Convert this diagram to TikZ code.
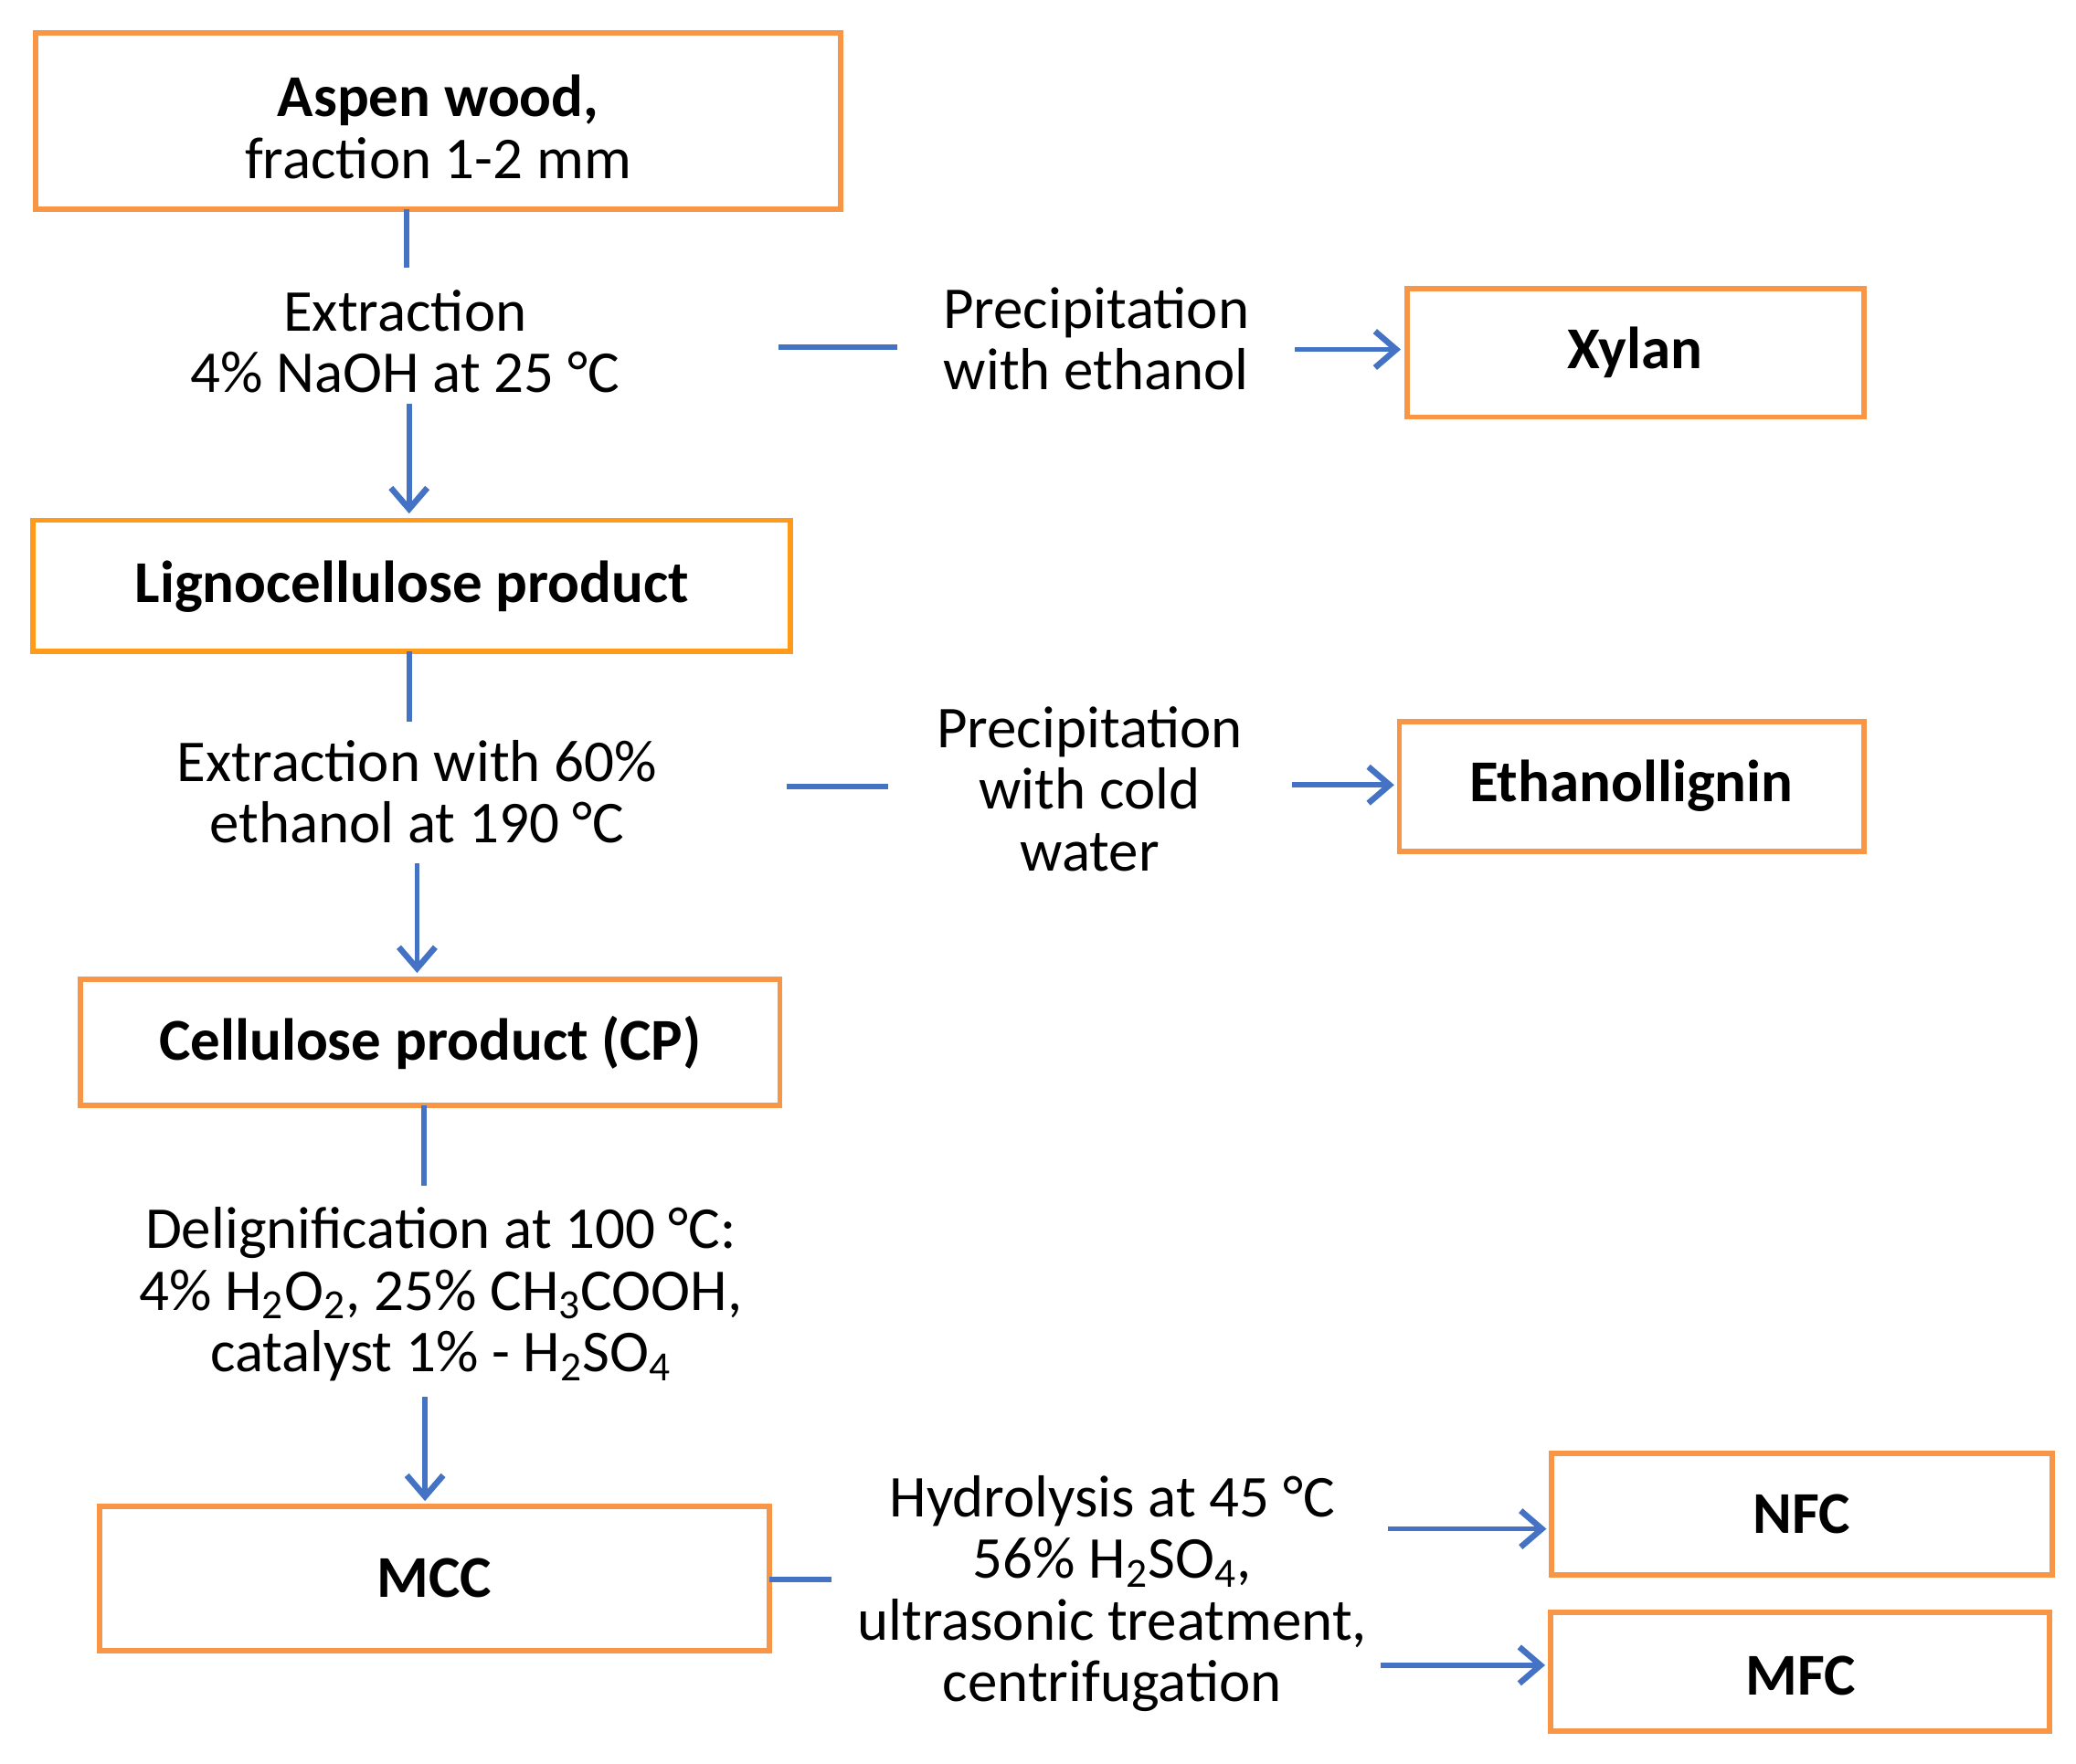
\documentclass[tikz,border=0pt]{standalone}
\usepackage{fontspec}
\setmainfont{Carlito}
\usetikzlibrary{arrows.meta}
\definecolor{bor}{HTML}{F79646}
\definecolor{bor2}{HTML}{FF9A1A}
\definecolor{lin}{HTML}{4472C4}
\begin{document}
\begin{tikzpicture}[x=0.2mm,y=-0.2mm,
 box/.style={draw=bor,line width=0.8mm,inner sep=0pt},
 txt/.style={align=center,font=\fontsize{25.5}{26.5}\selectfont,inner sep=0pt},
 bt/.style={font=\fontsize{25.5}{26.5}\selectfont\bfseries,align=center},
 ln/.style={draw=lin,line width=0.8mm},
 ar/.style={ln,-{Straight Barb[length=3.2mm,width=5.5mm,line width=0.9mm]}}]
\useasboundingbox (0,0) rectangle (1568,1332);
\draw[box] (27,25) rectangle (635,158);
\node[bt,font=\fontsize{25.5}{26.5}\selectfont] (aspen) at (331,96) {\textbf{Aspen wood,}\\fraction 1-2 mm};
\draw[box] (1063,218) rectangle (1408,315); \node[bt] (xylan) at (1235,266) {Xylan};
\draw[box,draw=bor2] (25,393) rectangle (597,492); \node[bt] (ligno) at (311,443) {Lignocellulose product};
\draw[box] (1057,545) rectangle (1408,643); \node[bt] (etl) at (1232,594) {Ethanollignin};
\draw[box] (61,740) rectangle (589,835); \node[bt] (cp) at (325,788) {Cellulose product (CP)};
\draw[box] (75,1138) rectangle (581,1247); \node[bt] (mcc) at (328,1192) {MCC};
\draw[box] (1172,1098) rectangle (1550,1190); \node[bt] (nfc) at (1361,1144) {NFC};
\draw[box] (1171,1218) rectangle (1548,1308); \node[bt] (mfc) at (1360,1266) {MFC};

\node[txt] (t1) at (306,258) {Extraction\\4\% NaOH at 25 °C};
\node[txt] (t2) at (828,256) {Precipitation\\with ethanol};
\node[txt] (t3) at (315,598) {Extraction with 60\%\\ethanol at 190 °C};
\node[txt] (t4) at (823,596) {Precipitation\\with cold\\water};
\node[txt] (t5) at (333,978) {Delignification at 100 °C:\\4\% H\textsubscript{2}O\textsubscript{2}, 25\% CH\textsubscript{3}COOH,\\catalyst 1\% - H\textsubscript{2}SO\textsubscript{4}};
\node[txt] (t6) at (840,1204) {Hydrolysis at 45 °C\\56\% H\textsubscript{2}SO\textsubscript{4},\\ultrasonic treatment,\\centrifugation};

\coordinate (a1) at (307,158); \coordinate (a2) at (307,202);
\draw[ln] (a1)--(a2);
\coordinate (b1) at (309,305); \coordinate (b2) at (309,388);
\draw[ar] (b1)--(b2);
\coordinate (c1) at (588,262); \coordinate (c2) at (678,262);
\draw[ln] (c1)--(c2);
\coordinate (d1) at (978,264); \coordinate (d2) at (1058,264);
\draw[ar] (d1)--(d2);
\coordinate (e1) at (309,492); \coordinate (e2) at (309,545);
\draw[ln] (e1)--(e2);
\coordinate (f1) at (315,652); \coordinate (f2) at (315,735);
\draw[ar] (f1)--(f2);
\coordinate (g1) at (594,594); \coordinate (g2) at (671,594);
\draw[ln] (g1)--(g2);
\coordinate (h1) at (976,593); \coordinate (h2) at (1053,593);
\draw[ar] (h1)--(h2);
\coordinate (i1) at (320,835); \coordinate (i2) at (320,896);
\draw[ln] (i1)--(i2);
\coordinate (j1) at (321,1055); \coordinate (j2) at (321,1134);
\draw[ar] (j1)--(j2);
\coordinate (k1) at (581,1193); \coordinate (k2) at (628,1193);
\draw[ln] (k1)--(k2);
\coordinate (l1) at (1048,1155); \coordinate (l2) at (1168,1155);
\draw[ar] (l1)--(l2);
\coordinate (m1) at (1043,1258); \coordinate (m2) at (1167,1258);
\draw[ar] (m1)--(m2);
\end{tikzpicture}
\end{document}
